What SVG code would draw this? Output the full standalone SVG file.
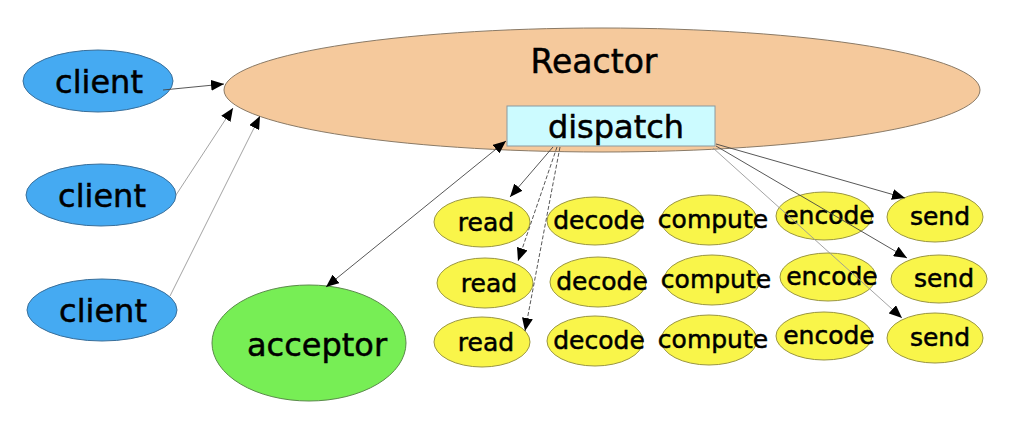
<svg xmlns="http://www.w3.org/2000/svg" width="1010" height="431" viewBox="0 0 1010 431">
<style>
text{font-family:"DejaVu Sans","Verdana",sans-serif;fill:#000;stroke:#000;stroke-width:0.5;text-anchor:middle}
.client{fill:#45aaf2;stroke:#3a6f9a;stroke-width:1}
.task{fill:#f9f54a;stroke:#9a9640;stroke-width:1}
.big{font-size:32px}
.small{font-size:25px}
.conn{fill:none;stroke:#444;stroke-width:0.9}
.light{stroke:#999}
.dash{stroke-dasharray:4,2}
</style>
<defs>
<marker id="arr" markerUnits="userSpaceOnUse" markerWidth="13" markerHeight="11" refX="13" refY="5.5" orient="auto-start-reverse" viewBox="0 0 13 11">
<path d="M0,0 L13,5.5 L0,11 z" fill="#000"/>
</marker>
</defs>
<rect width="1010" height="431" fill="#fff"/>
<g id="reactor">
<ellipse cx="602" cy="90" rx="378" ry="62" fill="#f5c99c" stroke="#8a7a66" stroke-width="1"/>
<text x="594" y="73" style="font-size:33px">Reactor</text>
</g>
<g id="dispatch">
<rect x="507" y="106" width="208" height="40" fill="#ccfbff" stroke="#8a9aa0" stroke-width="1"/>
<text x="616" y="138" class="big">dispatch</text>
</g>
<g id="client1"><ellipse class="client" cx="98" cy="81" rx="75" ry="31"/><text x="99" y="93" class="big">client</text></g>
<g id="client2"><ellipse class="client" cx="101" cy="195" rx="75" ry="31"/><text x="102" y="207" class="big">client</text></g>
<g id="client3"><ellipse class="client" cx="102" cy="310" rx="75" ry="31"/><text x="103" y="322" class="big">client</text></g>
<g id="acceptor"><ellipse cx="309" cy="343" rx="97" ry="58" fill="#77ee55" stroke="#5a8a4a" stroke-width="1"/><text x="317" y="356" class="big">acceptor</text></g>
<g id="read1"><ellipse class="task" cx="482" cy="222" rx="48" ry="25"/><text x="486" y="231" class="small">read</text></g>
<g id="decode1"><ellipse class="task" cx="595" cy="221" rx="48" ry="24"/><text x="599" y="229" class="small">decode</text></g>
<g id="compute1"><ellipse class="task" cx="709" cy="220" rx="48" ry="25"/><text x="713" y="228" class="small">compute</text></g>
<g id="encode1"><ellipse class="task" cx="824" cy="216" rx="48" ry="24"/><text x="829" y="224" class="small">encode</text></g>
<g id="send1"><ellipse class="task" cx="935" cy="217" rx="48" ry="25"/><text x="940" y="225" class="small">send</text></g>
<g id="read2"><ellipse class="task" cx="485" cy="283" rx="48" ry="25"/><text x="489" y="292" class="small">read</text></g>
<g id="decode2"><ellipse class="task" cx="598" cy="282" rx="48" ry="25"/><text x="602" y="290" class="small">decode</text></g>
<g id="compute2"><ellipse class="task" cx="712" cy="280" rx="48" ry="25"/><text x="716" y="288" class="small">compute</text></g>
<g id="encode2"><ellipse class="task" cx="828" cy="277" rx="48" ry="24"/><text x="832" y="285" class="small">encode</text></g>
<g id="send2"><ellipse class="task" cx="939" cy="279" rx="48" ry="24"/><text x="944" y="287" class="small">send</text></g>
<g id="read3"><ellipse class="task" cx="482" cy="342" rx="48" ry="25"/><text x="486" y="351" class="small">read</text></g>
<g id="decode3"><ellipse class="task" cx="595" cy="341" rx="48" ry="25"/><text x="599" y="349" class="small">decode</text></g>
<g id="compute3"><ellipse class="task" cx="709" cy="340" rx="48" ry="25"/><text x="713" y="348" class="small">compute</text></g>
<g id="encode3"><ellipse class="task" cx="824" cy="336" rx="48" ry="24"/><text x="829" y="344" class="small">encode</text></g>
<g id="send3"><ellipse class="task" cx="935" cy="338" rx="48" ry="25"/><text x="940" y="346" class="small">send</text></g>
<g id="connectors">
<line class="conn" x1="163" y1="90" x2="224" y2="84" marker-end="url(#arr)"/>
<line class="conn light" x1="176" y1="195" x2="233" y2="108" marker-end="url(#arr)"/>
<line class="conn light" x1="170" y1="296" x2="260" y2="116" marker-end="url(#arr)"/>
<line class="conn" x1="326" y1="287" x2="506" y2="141" marker-start="url(#arr)" marker-end="url(#arr)"/>
<line class="conn" x1="553" y1="147" x2="510" y2="197" marker-end="url(#arr)"/>
<line class="conn dash" x1="557" y1="147" x2="518" y2="261" marker-end="url(#arr)"/>
<line class="conn dash" x1="560" y1="147" x2="525" y2="331" marker-end="url(#arr)"/>
<line class="conn" x1="716" y1="144" x2="905" y2="198" marker-end="url(#arr)"/>
<line class="conn" x1="716" y1="146" x2="907" y2="258" marker-end="url(#arr)"/>
<line class="conn light" x1="713" y1="148" x2="902" y2="318" marker-end="url(#arr)"/>
</g>
</svg>
